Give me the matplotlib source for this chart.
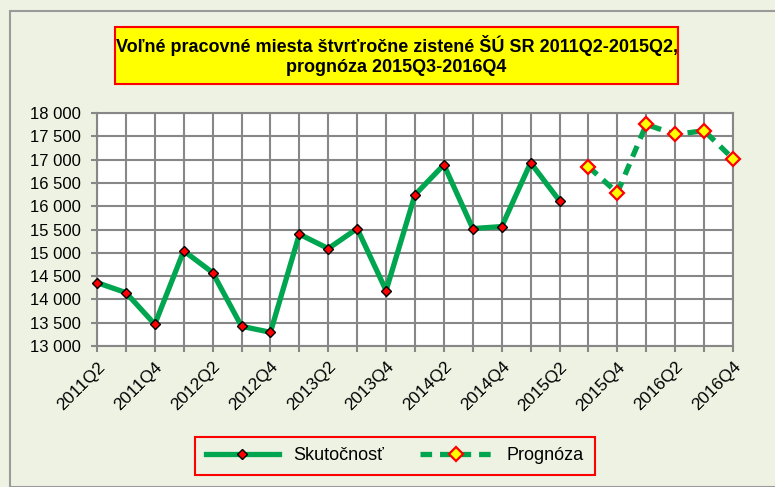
import matplotlib
matplotlib.use('Agg')
import matplotlib.pyplot as plt
from matplotlib.patches import Rectangle
from matplotlib.lines import Line2D

plt.rcParams['font.family'] = ['Liberation Sans Narrow', 'Liberation Sans', 'DejaVu Sans']

# Data
quarters = ['2011Q2', '2011Q3', '2011Q4', '2012Q1', '2012Q2', '2012Q3', '2012Q4',
            '2013Q1', '2013Q2', '2013Q3', '2013Q4', '2014Q1', '2014Q2', '2014Q3',
            '2014Q4', '2015Q1', '2015Q2', '2015Q3', '2015Q4', '2016Q1', '2016Q2',
            '2016Q3', '2016Q4']
actual = [14360, 14145, 13466, 15041, 14575, 13423, 13294, 15400, 15091, 15520,
          14190, 16245, 16889, 15520, 15563, 16932, 16115]
forecast = [16846, 16287, 17755, 17540, 17620, 17018]
y_ticks = list(range(13000, 18001, 500))

green = '#00A550'
bg = '#EEF2E2'
grid_c = '#878787'

fig = plt.figure(figsize=(7.75, 4.87), dpi=100, facecolor=bg)
ax = fig.add_axes([97 / 775, 1 - 346 / 487, (733 - 97) / 775, (346 - 113) / 487])
ax.set_facecolor('white')

x_act = list(range(len(actual)))
x_fc = list(range(len(actual), len(actual) + len(forecast)))

ax.plot(x_act, actual, color=green, lw=3.8, marker='D', ms=5.2,
        mfc='red', mec='black', mew=1.0, zorder=3, clip_on=False, label='Skutočnosť')
ax.plot(x_fc, forecast, color=green, lw=3.8, dashes=(2.2, 1.5), marker='D', ms=7.5,
        mfc='#FFFF00', mec='red', mew=1.6, zorder=3, clip_on=False, label='Prognóza')

ax.set_xlim(0, len(quarters) - 1)
ax.set_ylim(13000, 18000)
ax.set_yticks(y_ticks)
ax.set_yticklabels([f'{v:,}'.replace(',', ' ') for v in y_ticks])
ax.set_xticks(range(len(quarters)))
ax.set_xticklabels([q if i % 2 == 0 else '' for i, q in enumerate(quarters)],
                   rotation=45, ha='right', rotation_mode='anchor')
ax.grid(True, color=grid_c, lw=1.5)
ax.set_axisbelow(True)
for s in ax.spines.values():
    s.set_color(grid_c)
    s.set_linewidth(1.5)
ax.tick_params(axis='both', colors=grid_c, width=1.5, length=4.5, labelcolor='black',
               labelsize=12.5)
ax.tick_params(axis='y', pad=7, labelsize=12)
ax.tick_params(axis='x', pad=5)

# outer chart border
fig.patches.append(Rectangle((10 / 775, 0), 1, 1 - 11 / 487, transform=fig.transFigure,
                             fill=False, edgecolor='#9A9A9A', lw=1.5))

# title box
fig.patches.append(Rectangle((115 / 775, 1 - 84 / 487), 563 / 775, 57 / 487,
                             transform=fig.transFigure, facecolor='#FFFF00',
                             edgecolor='red', lw=1.5))
fig.text(396.5 / 775, 1 - 55.5 / 487,
         'Voľné pracovné miesta štvrťročne zistené ŠÚ SR 2011Q2-2015Q2,\nprognóza 2015Q3-2016Q4',
         ha='center', va='center', fontsize=13, fontweight='bold', linespacing=1.25)

# legend
h1 = Line2D([], [], color=green, lw=3.8, marker='D', ms=5.2, mfc='red', mec='black', mew=1.0)
h2 = Line2D([], [], color=green, lw=3.8, dashes=(2.2, 1.5), marker='D', ms=7.5,
            mfc='#FFFF00', mec='red', mew=1.6)
leg = fig.legend([h1, h2], ['Skutočnosť', 'Prognóza'], ncol=2, loc='center',
                 bbox_to_anchor=(395 / 775, 1 - 456 / 487), fontsize=13,
                 handlelength=4.0, columnspacing=2.0, borderpad=0.6, fancybox=False,
                 facecolor=bg, edgecolor='red', framealpha=1)
leg.get_frame().set_linewidth(1.5)

fig.savefig('out.png', dpi=100, facecolor=bg)
